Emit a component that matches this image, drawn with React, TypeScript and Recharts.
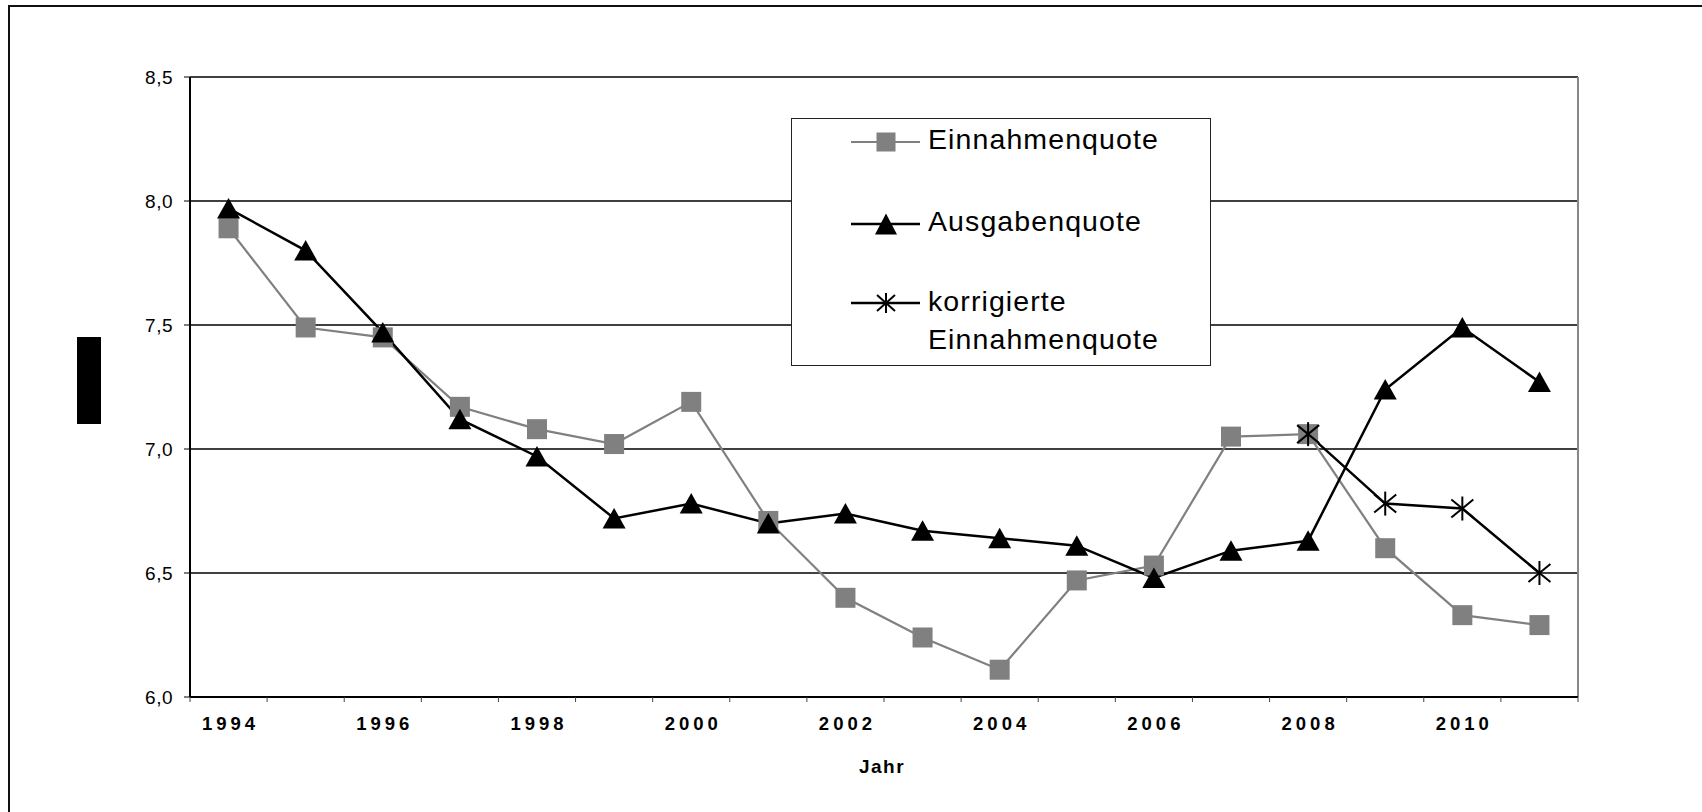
import React from 'react';
import { LineChart, Line, XAxis, YAxis, CartesianGrid, Legend } from 'recharts';

const years = [1994, 1995, 1996, 1997, 1998, 1999, 2000, 2001, 2002, 2003, 2004, 2005, 2006, 2007, 2008, 2009, 2010, 2011];
const einnahmenquote = [7.89, 7.49, 7.45, 7.17, 7.08, 7.02, 7.19, 6.71, 6.40, 6.24, 6.11, 6.47, 6.53, 7.05, 7.06, 6.60, 6.33, 6.29];
const ausgabenquote = [7.97, 7.80, 7.47, 7.12, 6.97, 6.72, 6.78, 6.70, 6.74, 6.67, 6.64, 6.61, 6.48, 6.59, 6.63, 7.24, 7.49, 7.27];
const korrigierteEinnahmenquote: (number | null)[] = [null, null, null, null, null, null, null, null, null, null, null, null, null, null, 7.06, 6.78, 6.76, 6.50];

const yTicks = [6, 6.5, 7, 7.5, 8, 8.5];
const xLabelYears = [1994, 1996, 1998, 2000, 2002, 2004, 2006, 2008, 2010];
const xBoundaries = [...years.map((y) => y - 0.5), years[years.length - 1] + 0.5];
const xAllTicks = [...xBoundaries, ...years].sort((a, b) => a - b);
const xDomain = [xBoundaries[0], xBoundaries[xBoundaries.length - 1]];

const seriesNames = {
  ein: 'Einnahmenquote',
  aus: 'Ausgabenquote',
  korr: 'korrigierte Einnahmenquote',
};

const rows = years.map((year, i) => ({
  year,
  ein: einnahmenquote[i],
  aus: ausgabenquote[i],
  korr: korrigierteEinnahmenquote[i],
}));

const FONT = "'Liberation Sans', Arial, Helvetica, sans-serif";
const GRAY = '#808080';

const SquareDot = (props: any) => {
  const { cx, cy, index } = props;
  if (cx == null || cy == null) return <g key={`sq-${index}`} />;
  return <rect key={`sq-${index}`} x={cx - 10} y={cy - 10} width={20} height={20} fill={GRAY} />;
};

const TriangleDot = (props: any) => {
  const { cx, cy, index } = props;
  if (cx == null || cy == null) return <g key={`tr-${index}`} />;
  return (
    <polygon
      key={`tr-${index}`}
      points={`${cx},${cy - 10.5} ${cx - 11.5},${cy + 10} ${cx + 11.5},${cy + 10}`}
      fill="#000"
    />
  );
};

const StarDot = (props: any) => {
  const { cx, cy, index } = props;
  if (cx == null || cy == null) return <g key={`st-${index}`} />;
  return (
    <g key={`st-${index}`} stroke="#000" strokeWidth={2}>
      <line x1={cx} y1={cy - 12} x2={cx} y2={cy + 12} />
      <line x1={cx - 11} y1={cy - 9} x2={cx + 11} y2={cy + 9} />
      <line x1={cx - 11} y1={cy + 9} x2={cx + 11} y2={cy - 9} />
    </g>
  );
};

const YTick = (props: any) => {
  const { x, y, payload } = props;
  return (
    <text x={x} y={y} dy="0.355em" textAnchor="end" fontSize={19} fontFamily={FONT} fill="#000" style={{ letterSpacing: '0.5px' }}>
      {Number(payload.value).toFixed(1).replace('.', ',')}
    </text>
  );
};

// Ticks at category boundaries draw a small tick mark; ticks at even years draw the label.
const XTick = (props: any) => {
  const { x, y, payload, index } = props;
  const v = Number(payload.value);
  const isBoundary = Math.abs(v - Math.round(v)) > 0.25;
  if (isBoundary) {
    return <line key={`xt-${index}`} x1={x} x2={x} y1={y} y2={y + 5} stroke="#444" strokeWidth={1} />;
  }
  if (xLabelYears.includes(v)) {
    return (
      <text key={`xt-${index}`} x={x} y={y + 20} dx={2} dy="0.71em" textAnchor="middle" fontSize={18.5} fontWeight="bold" fontFamily={FONT} fill="#000" style={{ letterSpacing: '4px' }}>
        {String(v)}
      </text>
    );
  }
  return <g key={`xt-${index}`} />;
};

const JahrLabel = (props: any) => {
  const vb = props.viewBox || {};
  return (
    <text
      x={vb.x + vb.width / 2 - 2}
      y={vb.y + vb.height - 39}
      textAnchor="middle"
      fontSize={19}
      fontWeight="bold"
      fontFamily={FONT}
      fill="#000"
      style={{ letterSpacing: '1.5px' }}
    >
      Jahr
    </text>
  );
};

const LegendBox = () => {
  const lx1 = 59;
  const lx2 = 128;
  const mx = 94;
  const tx = 136;
  const fs = 28.5;
  const ts = { letterSpacing: '1.1px' };
  const korrWords = seriesNames.korr.split(' ');
  return (
    <div style={{ width: '100%', height: '100%', boxSizing: 'border-box', border: '1px solid #222', background: '#fff', position: 'relative' }}>
      <svg width={418} height={246} style={{ position: 'absolute', left: 0, top: 0 }}>
        <line x1={lx1} x2={lx2} y1={23} y2={23} stroke={GRAY} strokeWidth={2.2} />
        <rect x={mx - 9.5} y={23 - 9.5} width={19} height={19} fill={GRAY} />
        <text x={tx} y={30} fontSize={fs} fontFamily={FONT} fill="#000" style={ts}>{seriesNames.ein}</text>

        <line x1={lx1} x2={lx2} y1={105} y2={105} stroke="#000" strokeWidth={2.5} />
        <polygon points={`${mx},${105 - 10.5} ${mx - 11},${105 + 10.5} ${mx + 11},${105 + 10.5}`} fill="#000" />
        <text x={tx} y={111.5} fontSize={fs} fontFamily={FONT} fill="#000" style={ts}>{seriesNames.aus}</text>

        <line x1={lx1} x2={lx2} y1={184} y2={184} stroke="#000" strokeWidth={2.5} />
        <g stroke="#000" strokeWidth={2}>
          <line x1={mx} y1={184 - 10} x2={mx} y2={184 + 10} />
          <line x1={mx - 9} y1={184 - 8} x2={mx + 9} y2={184 + 8} />
          <line x1={mx - 9} y1={184 + 8} x2={mx + 9} y2={184 - 8} />
        </g>
        <text x={tx} y={191.5} fontSize={fs} fontFamily={FONT} fill="#000" style={ts}>
          <tspan x={tx}>{korrWords[0]}</tspan>
          <tspan x={tx} dy={38}>{korrWords[1]}</tspan>
        </text>
      </svg>
    </div>
  );
};

export default function App() {
  return (
    <div style={{ position: 'fixed', left: 0, top: 0, width: 1702, height: 812, overflow: 'hidden', background: '#fff' }}>
      <div style={{ position: 'absolute', left: 8, top: 5, width: 1800, height: 900, borderLeft: '2px solid #111', borderTop: '2px solid #111' }} />
      <div style={{ position: 'absolute', left: 77, top: 337, width: 24, height: 87, background: '#000' }} />
      <div style={{ position: 'absolute', left: 0, top: 0 }}>
        <LineChart width={1702} height={812} data={rows} margin={{ top: 77, right: 124, bottom: 0, left: 0 }}>
          <CartesianGrid horizontal vertical={false} stroke="#000" strokeWidth={1.3} />
          <CartesianGrid horizontal={false} vertical verticalPoints={[1578]} stroke="#888" strokeWidth={2} />
          <XAxis
            type="number"
            dataKey="year"
            domain={xDomain}
            ticks={xAllTicks}
            interval={0}
            height={115}
            tickSize={0}
            tickMargin={0}
            tickLine={false}
            tick={XTick}
            axisLine={{ stroke: '#000', strokeWidth: 2 }}
            label={{ content: JahrLabel }}
          />
          <YAxis
            type="number"
            domain={[6, 8.5]}
            ticks={yTicks}
            interval={0}
            width={190}
            tickSize={6}
            tickMargin={11}
            tick={YTick}
            axisLine={{ stroke: '#000', strokeWidth: 2 }}
            tickLine={{ stroke: '#000', strokeWidth: 1 }}
          />
          <Legend
            layout="vertical"
            align="center"
            verticalAlign="middle"
            wrapperStyle={{ left: 791, top: 118, width: 420, height: 248 }}
            content={() => <LegendBox />}
          />
          <Line type="linear" dataKey="ein" name={seriesNames.ein} stroke={GRAY} strokeWidth={2.2} dot={SquareDot} activeDot={false} isAnimationActive={false} />
          <Line type="linear" dataKey="aus" name={seriesNames.aus} stroke="#000" strokeWidth={2.5} dot={TriangleDot} activeDot={false} isAnimationActive={false} />
          <Line type="linear" dataKey="korr" name={seriesNames.korr} stroke="#000" strokeWidth={2.5} dot={StarDot} activeDot={false} isAnimationActive={false} />
        </LineChart>
      </div>
    </div>
  );
}
